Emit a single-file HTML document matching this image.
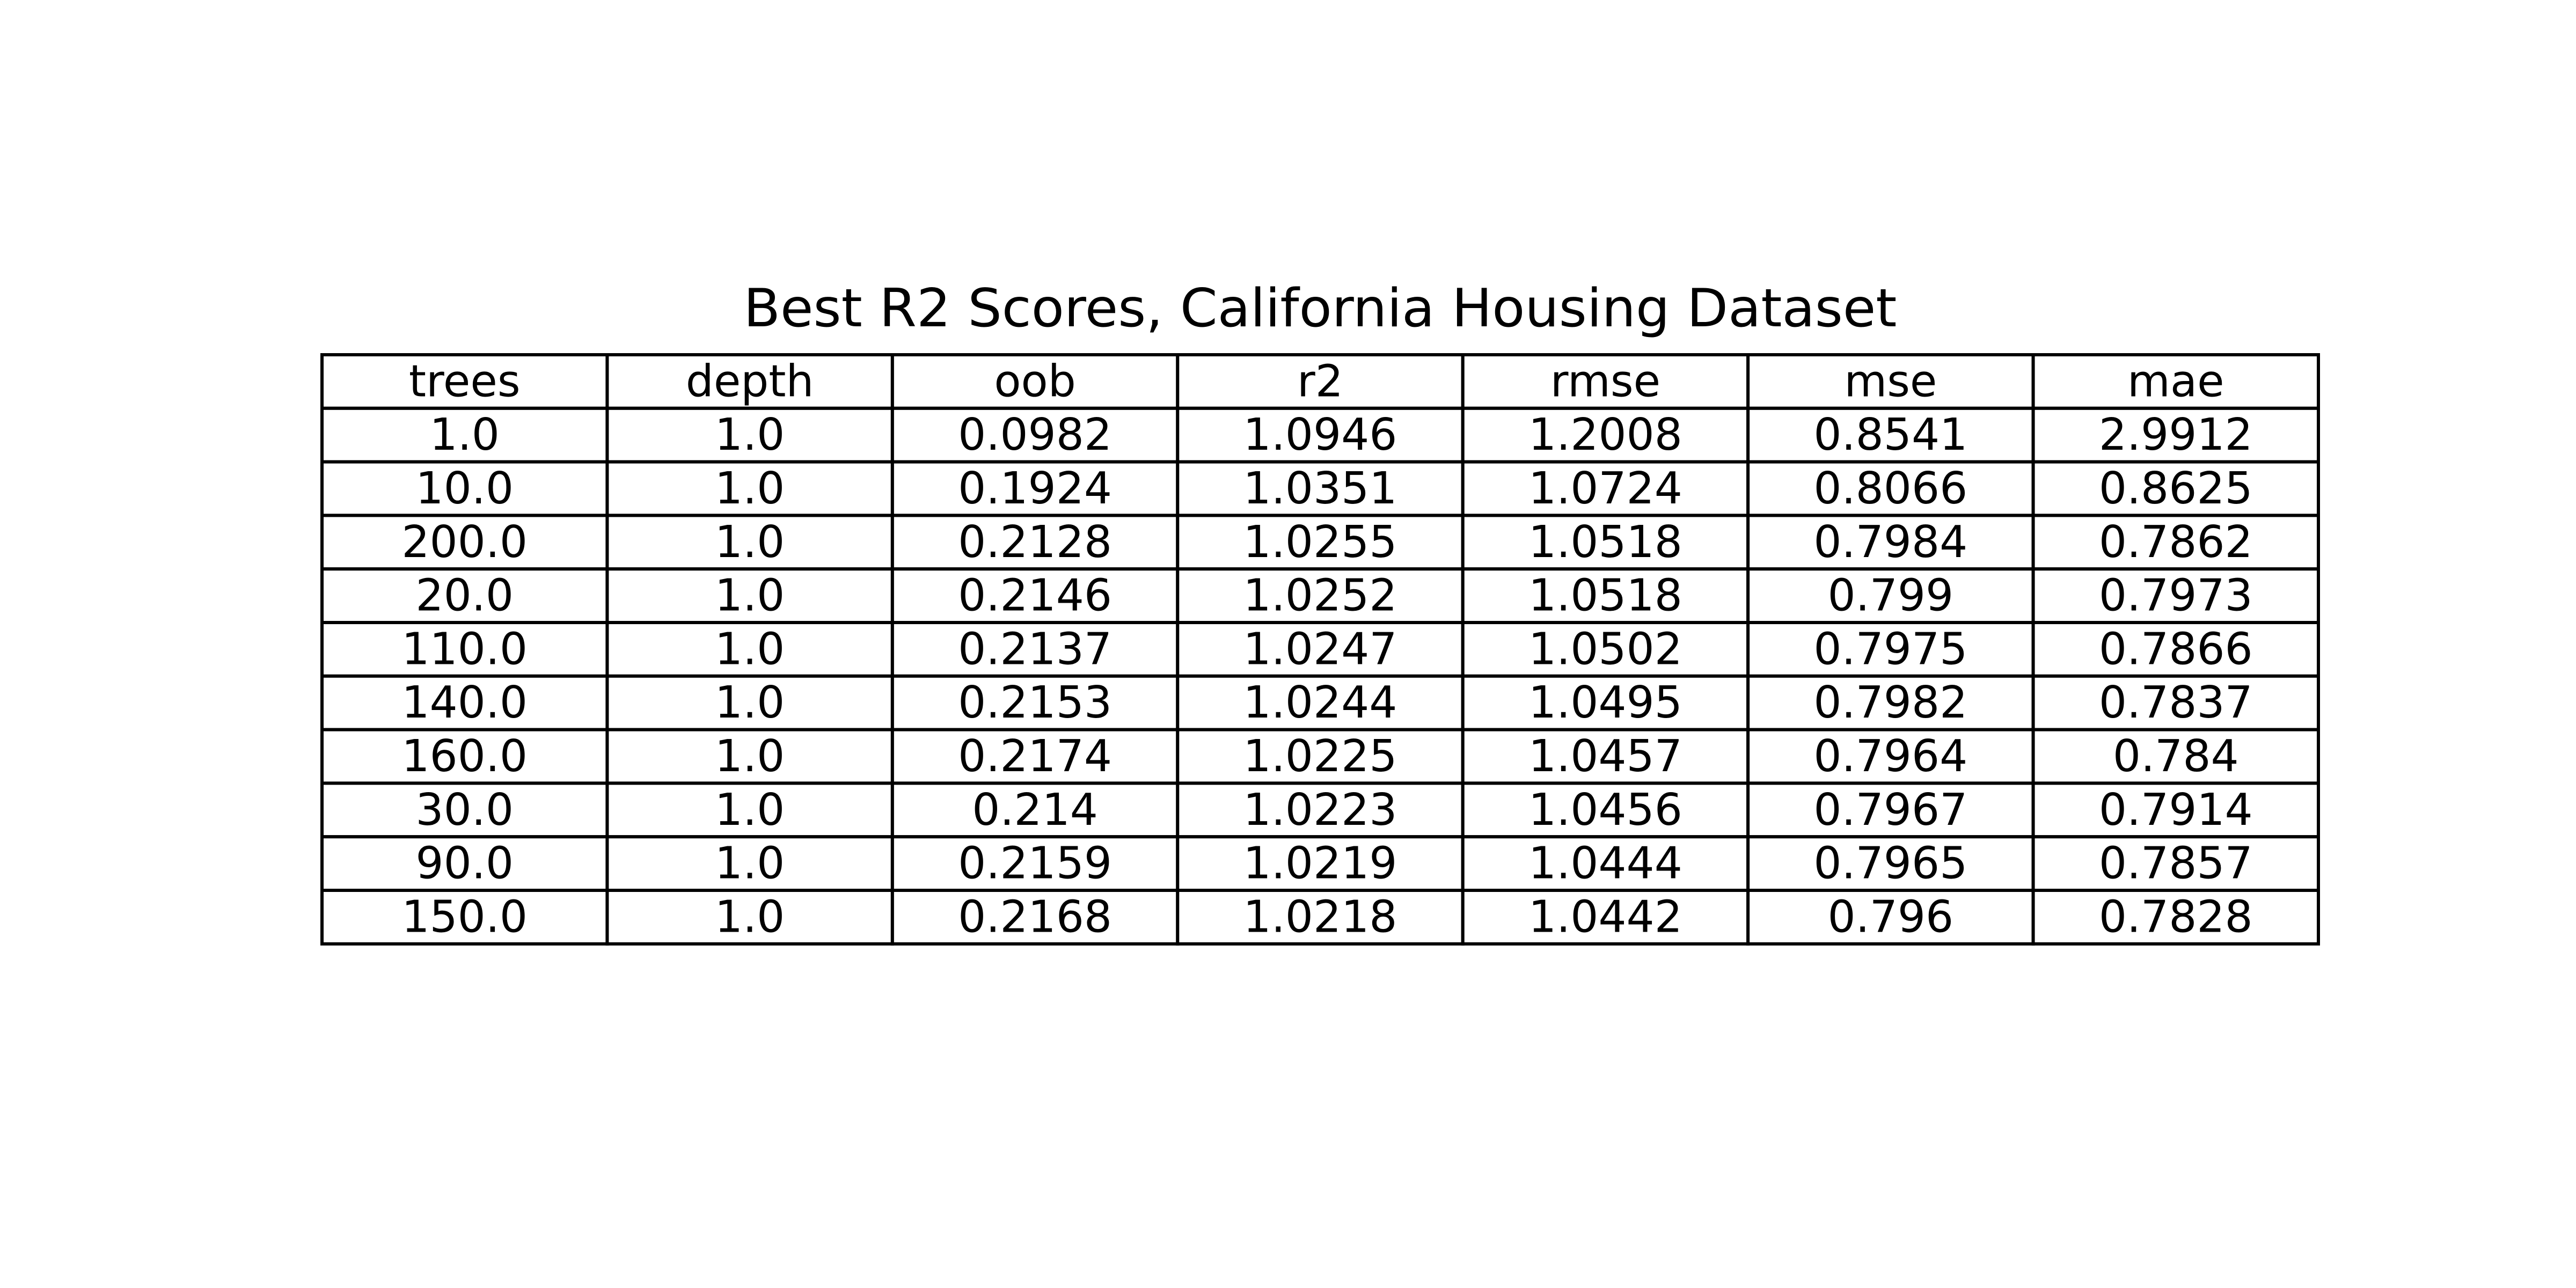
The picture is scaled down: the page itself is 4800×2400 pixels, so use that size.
<!DOCTYPE html>
<html><head><meta charset="utf-8"><style>
html,body{margin:0;padding:0;background:#fff;}
svg{display:block;}
text{font-family:"DejaVu Sans","Liberation Sans",sans-serif;fill:#000;}
</style></head><body>
<svg id="chart" width="4800" height="2400" viewBox="0 0 4800 2400" xmlns="http://www.w3.org/2000/svg">
<rect width="4800" height="2400" fill="#fff"/>
<text x="2460" y="575" text-anchor="middle" dominant-baseline="central" font-size="98" textLength="2149" lengthAdjust="spacingAndGlyphs">Best R2 Scores, California Housing Dataset</text>
<g id="tbl"></g>
</svg>
<script>
const columns = ["trees","depth","oob","r2","rmse","mse","mae"];
const trees = ["1.0","10.0","200.0","20.0","110.0","140.0","160.0","30.0","90.0","150.0"];
const depth = ["1.0","1.0","1.0","1.0","1.0","1.0","1.0","1.0","1.0","1.0"];
const oob = ["0.0982","0.1924","0.2128","0.2146","0.2137","0.2153","0.2174","0.214","0.2159","0.2168"];
const r2 = ["1.0946","1.0351","1.0255","1.0252","1.0247","1.0244","1.0225","1.0223","1.0219","1.0218"];
const rmse = ["1.2008","1.0724","1.0518","1.0518","1.0502","1.0495","1.0457","1.0456","1.0444","1.0442"];
const mse = ["0.8541","0.8066","0.7984","0.799","0.7975","0.7982","0.7964","0.7967","0.7965","0.796"];
const mae = ["2.9912","0.8625","0.7862","0.7973","0.7866","0.7837","0.784","0.7914","0.7857","0.7828"];

const NS = "http://www.w3.org/2000/svg";
const g = document.getElementById("tbl");
const tableLeft = 600, tableRight = 4320, tableTop = 661, rowH = 99.8;
const cols = [trees, depth, oob, r2, rmse, mse, mae];
const colW = (tableRight - tableLeft) / columns.length;
function cell(r, c, txt, isHeader) {
  const x = tableLeft + c * colW, y = tableTop + r * rowH;
  const rect = document.createElementNS(NS, "rect");
  rect.setAttribute("x", x); rect.setAttribute("y", y);
  rect.setAttribute("width", colW); rect.setAttribute("height", rowH);
  rect.setAttribute("fill", "#fff"); rect.setAttribute("stroke", "#000"); rect.setAttribute("stroke-width", "6");
  
  
  g.appendChild(rect);
  const t = document.createElementNS(NS, "text");
  t.setAttribute("x", x + colW / 2); t.setAttribute("y", y + rowH / 2);
  t.setAttribute("text-anchor", "middle"); t.setAttribute("dominant-baseline", "central");
  t.setAttribute("font-size", "82");
  t.textContent = txt;
  
  
  g.appendChild(t);
}
columns.forEach((h, c) => cell(0, c, h, true));
for (let r = 0; r < trees.length; r++) {
  for (let c = 0; c < cols.length; c++) cell(r + 1, c, cols[c][r], false);
}
</script>
</body></html>
